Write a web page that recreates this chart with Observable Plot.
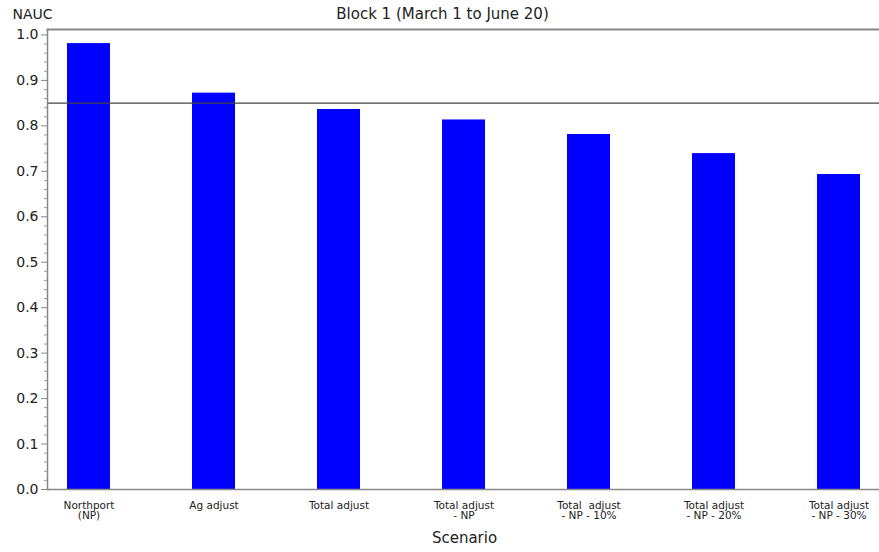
<!DOCTYPE html>
<html>
<head>
<meta charset="utf-8">
<script src="https://cdn.jsdelivr.net/npm/d3@7"></script>
<script src="https://cdn.jsdelivr.net/npm/@observablehq/plot@0.6"></script>
<style>
  html, body { margin: 0; padding: 0; background: #fff; overflow: hidden; }
  svg text { white-space: pre; }
</style>
</head>
<body>
<div id="chart"></div>
<script>
const title = "Block 1 (March 1 to June 20)";
const yLabel = "NAUC";
const xLabel = "Scenario";
const scenarios = [
  "Northport\n(NP)",
  "Ag adjust",
  "Total adjust",
  "Total adjust\n- NP",
  "Total  adjust\n- NP - 10%",
  "Total adjust\n- NP - 20%",
  "Total adjust\n- NP - 30%"
];
const nauc = [0.981, 0.872, 0.836, 0.813, 0.781, 0.739, 0.693];
const yTicks = [0, 0.1, 0.2, 0.3, 0.4, 0.5, 0.6, 0.7, 0.8, 0.9, 1.0];
const yMinorTicks = [0.02,0.04,0.06,0.08,0.12,0.14,0.16,0.18,0.22,0.24,0.26,0.28,0.32,0.34,0.36,0.38,0.42,0.44,0.46,0.48,0.52,0.54,0.56,0.58,0.62,0.64,0.66,0.68,0.72,0.74,0.76,0.78,0.82,0.84,0.86,0.88,0.92,0.94,0.96,0.98];
const refLine = [0.85];
const yDomain = [0, 1.012];

const data = scenarios.map((s, i) => ({scenario: s, value: nauc[i]}));
const font = "DejaVu Sans, sans-serif";

const chart = Plot.plot({
  width: 879,
  height: 552,
  marginTop: 29,
  marginBottom: 63,
  marginLeft: 47,
  marginRight: 0,
  style: {fontFamily: font, background: "#fff", overflow: "visible"},
  x: {domain: scenarios, paddingInner: 0.657, paddingOuter: 0.15, label: null},
  y: {domain: yDomain, label: null},
  marks: [
    Plot.barY(data, {x: "scenario", y: "value", fill: "#0000ff"}),
    Plot.ruleY(refLine, {stroke: "#444", strokeWidth: 1.2}),
    Plot.frame({anchor: "top", stroke: "#888", strokeWidth: 2}),
    Plot.ruleY([0], {stroke: "#888", strokeWidth: 1.5}),
    Plot.frame({anchor: "left", stroke: "#888", strokeWidth: 1.5}),
    Plot.axisY({ticks: yTicks, tickSize: 6, tickFormat: d3.format(".1f"), fontSize: 14, fill: "#222", stroke: "#888", tickPadding: 3, label: null}),
    Plot.axisY({ticks: yMinorTicks, tickSize: 3, tickFormat: () => "", stroke: "#999", label: null}),
    Plot.axisX({tickSize: 0, fontSize: 10.5, lineHeight: 1.0, fill: "#222", tickPadding: 12, label: null}),
    Plot.text([title], {frameAnchor: "top", dy: -21, fontSize: 15, fill: "#222", dx: -21}),
    Plot.text([yLabel], {frameAnchor: "top-left", dx: -35, dy: -20, fontSize: 14, fill: "#222", textAnchor: "start"}),
    Plot.text([xLabel], {frameAnchor: "bottom", dy: 53, fontSize: 15, fill: "#222", dx: 1})
  ]
});
document.getElementById("chart").appendChild(chart);
</script>
</body>
</html>
